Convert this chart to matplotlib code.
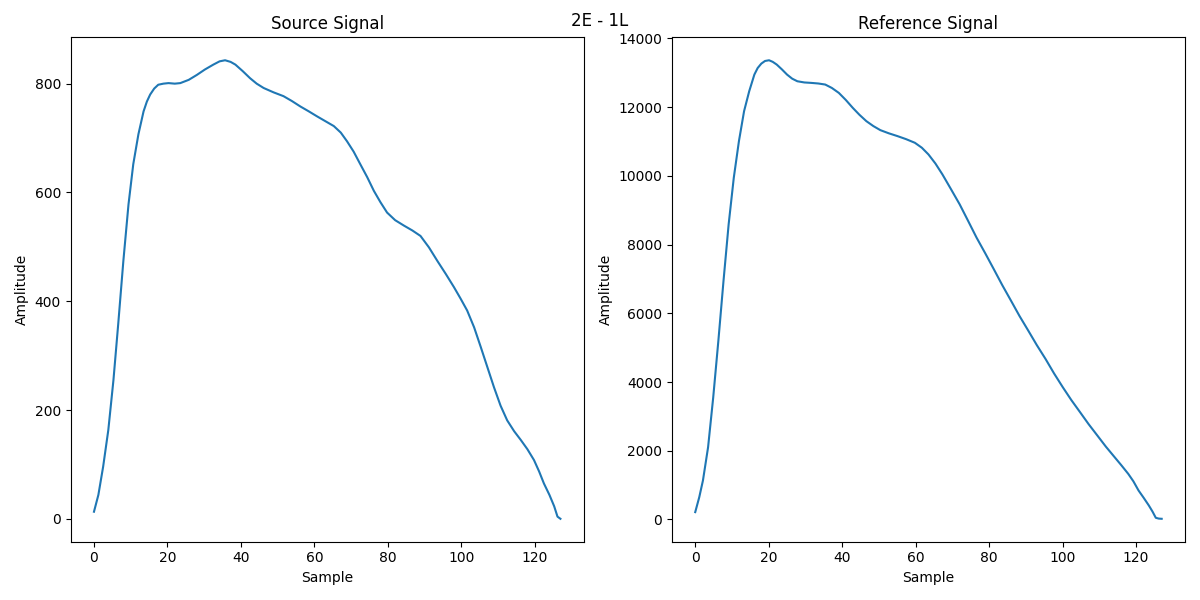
import numpy as np
import matplotlib
matplotlib.use('Agg')
import matplotlib.pyplot as plt

# Source signal
src_x = [0, 1.2, 2.5, 3.9, 5.3, 6.6, 8, 9.4, 10.7, 12.1, 13.5, 14.4, 15.3, 16.4,
         17.5, 18.9, 20.3, 22, 23.5, 25.8, 28, 30.2, 32.5, 34.2, 35.7, 37.2,
         38.5, 40.5, 42.5, 44.3, 46.2, 48.9, 51.6, 53.9, 56.2, 58.5, 60.7, 63,
         65.3, 67.2, 68.9, 70.7, 72.5, 74.4, 76.2, 78, 79.8, 82, 84.4, 86.7,
         88.9, 91.2, 93.5, 95.8, 98, 99.8, 101.6, 103.5, 105.3, 107.1, 108.9,
         110.7, 112.5, 114.4, 116.2, 118, 119.8, 121.2, 122.5, 124, 125.3,
         126.2, 127]
src_y = [13, 44, 96, 163, 255, 358, 474, 578, 652, 707, 749, 767, 780, 791,
         798, 800, 801, 800, 801, 807, 816, 826, 835, 841, 843, 840,
         835, 823, 810, 800, 792, 784, 777, 768, 758, 749, 740, 731,
         722, 710, 694, 675, 652, 628, 603, 582, 563, 549, 539, 530,
         520, 499, 474, 450, 426, 405, 383, 352, 316, 279, 242,
         208, 181, 161, 145, 128, 108, 87, 65, 44, 23,
         4, 0]

# Reference signal
ref_x = [0, 1.1, 2.1, 3.5, 4.9, 6.3, 7.7, 9.1, 10.5, 11.9, 13.3, 14.7, 16.1, 17,
         18, 19, 20.1, 21.1, 22.2, 23.6, 25, 26.4, 27.8, 29.7, 31.6, 33.5, 35.4,
         37.2, 39.1, 41, 42.9, 44.7, 46.6, 48.5, 50.4, 52.7, 55.1, 57.4, 59.8,
         61.7, 63.5, 65.4, 67.3, 69.6, 72, 74.3, 76.6, 79, 81.3, 83.6, 86, 88.3,
         90.7, 93, 95.4, 97.7, 100.1, 102.4, 104.8, 107.1, 109.5, 111.8, 114.2,
         116, 117.9, 119.3, 120.7, 122.1, 123.5, 124.5, 125.4, 126.2, 127]
ref_y = [213, 649, 1133, 2102, 3554, 5201, 6944, 8591, 9947, 11012, 11884, 12465,
         12949, 13140, 13269, 13345, 13366, 13320, 13240, 13100, 12949, 12830,
         12755, 12720, 12707, 12690, 12659, 12560, 12416, 12210, 11980, 11780,
         11593, 11450, 11332, 11240, 11157, 11070, 10964, 10820, 10625, 10360,
         10044, 9620, 9172, 8690, 8203, 7740, 7283, 6820, 6363, 5920, 5492,
         5075, 4668, 4250, 3845, 3475, 3119, 2775, 2441, 2120, 1811, 1580,
         1327, 1110, 843, 630, 407, 230, 48, 25, 19]

fig, (ax1, ax2) = plt.subplots(1, 2, figsize=(12, 6), dpi=100)

ax1.plot(src_x, src_y)
ax1.set_title('Source Signal')
ax1.set_xlabel('Sample')
ax1.set_ylabel('Amplitude')

ax2.plot(ref_x, ref_y)
ax2.set_title('Reference Signal')
ax2.set_xlabel('Sample')
ax2.set_ylabel('Amplitude')

# tight_layout d'abord, le suptitle vient ensuite par-dessus
plt.tight_layout()
fig.suptitle('2E - 1L')
plt.savefig('out.png')
